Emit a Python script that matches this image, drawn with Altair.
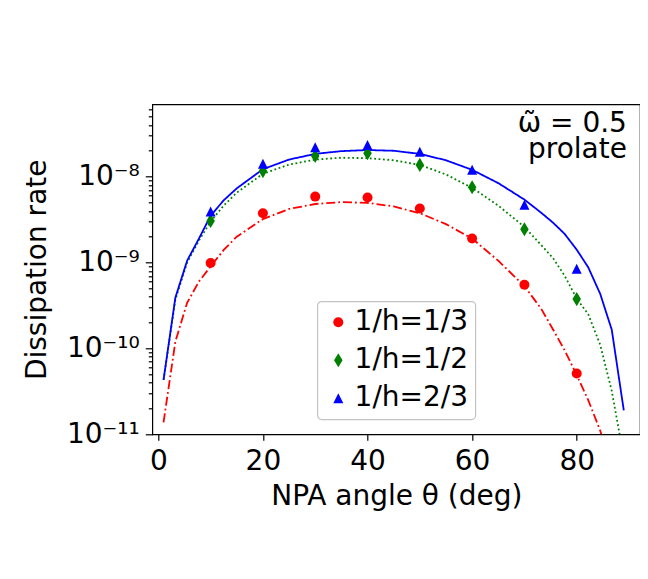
import altair as alt
import pandas as pd

FONT = "DejaVu Sans"

series_names = ["1/h=1/3", "1/h=1/2", "1/h=2/3"]
series_colors = ["#ff0000", "#008000", "#0000ff"]
series_dash = [[9, 3, 1.8, 3], [1.8, 2.6], [1, 0]]
# circle, thin diamond, triangle-up
series_shapes = ["circle", "M0,-1.414L0.85,0L0,1.414L-0.85,0Z", "M0,-1L1,1L-1,1Z"]

# markers (simulation points)
marker_theta = [10, 20, 30, 40, 50, 60, 70, 80]
marker_r13 = [9.85e-10, 3.75e-9, 5.85e-9, 5.7e-9, 4.25e-9, 1.9e-9, 5.5e-10, 5.1e-11]
marker_r12 = [3.05e-9, 1.16e-8, 1.74e-8, 1.87e-8, 1.37e-8, 7.53e-9, 2.44e-9, 3.75e-10]
marker_r23 = [3.92e-9, 1.41e-8, 2.2e-8, 2.34e-8, 1.95e-8, 1.2e-8, 4.69e-9, 8.45e-10]

# analytic curves
curve_theta = [1, 3.26, 5.51, 7.77, 10, 12.5, 15, 20, 25, 30, 35, 40, 45, 50,
               55, 60, 65, 70, 73.2, 75.5, 77.7, 80, 82.2, 84.5, 86.7, 89]
curve_r13 = [1.38e-11, 1.2e-10, 3.4e-10, 6.0e-10, 9.0e-10, 1.4e-9, 2.0e-9, 3.2e-9,
             4.2e-9, 4.8e-9, 5.05e-9, 4.95e-9, 4.5e-9, 3.75e-9, 2.8e-9, 1.9e-9,
             1.05e-9, 5.3e-10, 2.9e-10, 1.65e-10, 9.5e-11, 4.9e-11, 2.5e-11,
             1.1e-11, 4e-12, 1e-12]
curve_r12 = [4.3e-11, 3.7e-10, 1.0e-9, 1.8e-9, 3.0e-9, 4.6e-9, 6.5e-9, 1.08e-8,
             1.38e-8, 1.58e-8, 1.66e-8, 1.64e-8, 1.55e-8, 1.37e-8, 1.06e-8, 7.4e-9,
             4.6e-9, 2.6e-9, 1.6e-9, 1.12e-9, 7e-10, 3.8e-10, 2.5e-10, 1.1e-10,
             3.2e-11, 5.4e-12]
curve_r23 = [4.3e-11, 3.9e-10, 1.05e-9, 1.9e-9, 3.5e-9, 5.3e-9, 7.3e-9, 1.22e-8,
             1.58e-8, 1.84e-8, 1.98e-8, 2.04e-8, 2.0e-8, 1.84e-8, 1.55e-8, 1.2e-8,
             8.4e-9, 5.4e-9, 3.8e-9, 2.9e-9, 2.15e-9, 1.41e-9, 8.8e-10, 4.3e-10,
             1.65e-10, 1.9e-11]

# annotation
note_text = ["ω̃ = 0.5", "prolate"]
note_theta = [89.6, 89.6]
note_rate = [3.33e-8, 1.64e-8]

x_ticks = [0, 20, 40, 60, 80]
x_domain = [-1.15, 92.1]
y_domain = [1e-11, 6.95e-8]
y_major_exp = [-11, -10, -9, -8]
y_major_labels = ["10⁻¹¹", "10⁻¹⁰", "10⁻⁹", "10⁻⁸"]

y_ticks = [k * 10.0 ** e for e in range(-11, -7) for k in range(1, 10)
           if k * 10.0 ** e <= y_domain[1] * 1.0001]

markers = pd.concat([
    pd.DataFrame({"theta": marker_theta, "rate": vals, "series": name})
    for name, vals in zip(series_names, [marker_r13, marker_r12, marker_r23])
])
curves = pd.concat([
    pd.DataFrame({"theta": curve_theta, "rate": vals, "curve": name})
    for name, vals in zip(series_names, [curve_r13, curve_r12, curve_r23])
])
notes = pd.DataFrame({"text": note_text, "theta": note_theta, "rate": note_rate})

lg = "log(datum.value)/LN10"
label_expr = " : ".join(
    f"abs({lg} - ({e})) < 0.01 ? '{lab}'" for e, lab in zip(y_major_exp, y_major_labels)
) + " : ''"
major_test = f"abs({lg} - round({lg})) < 0.01"

x_enc = alt.X(
    "theta:Q",
    scale=alt.Scale(domain=x_domain, nice=False, zero=False),
    axis=alt.Axis(
        values=x_ticks, format="d", grid=False, domain=False,
        tickSize=6, tickWidth=1.2, tickColor="black",
        labelFontSize=28, labelFont=FONT, labelColor="black",
        labelBaseline="alphabetic", labelPadding=29, labelFlush=False,
        title="NPA angle θ (deg)", titleFontSize=28, titleFont=FONT,
        titleFontWeight="normal", titleColor="black",
        titleBaseline="alphabetic", titleX=244, titleY=70.7,
    ),
)
y_enc = alt.Y(
    "rate:Q",
    scale=alt.Scale(type="log", domain=y_domain, nice=False),
    axis=alt.Axis(
        values=y_ticks, labelExpr=label_expr, grid=False, domain=False,
        tickSize={"condition": {"test": major_test, "value": 7}, "value": 4},
        tickWidth=1.2, tickColor="black",
        labelFontSize=28, labelFont=FONT, labelColor="black",
        labelPadding=6, labelFlush=False,
        title="Dissipation rate", titleFontSize=28, titleFont=FONT,
        titleFontWeight="normal", titleColor="black",
        titleBaseline="alphabetic", titleX=-106.6, titleY=165,
    ),
)

line_layers = [
    alt.Chart(curves).transform_filter(alt.datum.curve == name).mark_line(
        clip=True, strokeWidth=1.8, color=col, strokeDash=dash
    ).encode(x=x_enc, y=y_enc)
    for name, col, dash in zip(series_names, series_colors, series_dash)
]

legend = alt.Legend(
    orient="none", legendX=165, legendY=197, title=None,
    labelFontSize=28, labelFont=FONT, labelColor="black",
    symbolSize=100, symbolStrokeWidth=0,
    fillColor="white", strokeColor="#c4c4c4", cornerRadius=4,
    padding=7, rowPadding=10, symbolOffset=0, labelOffset=2.3,
)

points = alt.Chart(markers).mark_point(filled=True, size=100, opacity=1, strokeWidth=0).encode(
    x=x_enc,
    y=y_enc,
    color=alt.Color("series:N", scale=alt.Scale(domain=series_names, range=series_colors), legend=legend),
    shape=alt.Shape("series:N", scale=alt.Scale(domain=series_names, range=series_shapes), legend=legend),
)

texts = alt.Chart(notes).mark_text(
    align="right", baseline="alphabetic", fontSize=28, font=FONT, color="black"
).encode(x=x_enc, y=y_enc, text="text:N")

chart = alt.layer(*line_layers, points, texts).properties(
    width=487.7, height=330,
    autosize=alt.AutoSizeParams(type="none"),
    padding={"left": 144.3, "top": 96.3, "right": 0, "bottom": 110},
).configure(font=FONT).configure_view(stroke="black", strokeWidth=1.2)

try:
    chart.configure_legend(strokeWidth=1.2).save(
        "out.html", embed_options={"renderer": "svg", "actions": False})
except Exception:
    chart.save("out.html", embed_options={"renderer": "svg", "actions": False})
